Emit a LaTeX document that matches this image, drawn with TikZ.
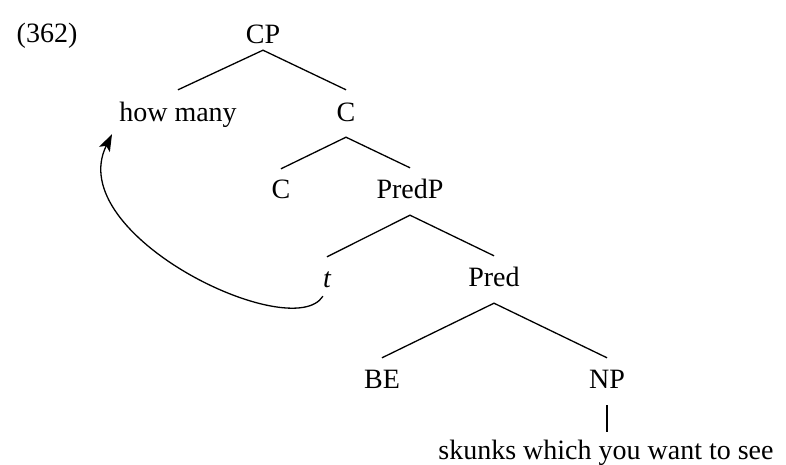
\documentclass[tikz,border=0pt]{standalone}
\usepackage{fontspec}
\setmainfont{Liberation Serif}
\usetikzlibrary{arrows.meta}
\begin{document}
\begin{tikzpicture}[x=1pt,y=-1pt,
  lbl/.style={anchor=base,inner sep=0pt,font=\fontsize{28}{30}\selectfont,text height=30pt,text depth=16pt},
  edge/.style={line width=1.3pt},
  mvarrow/.style={line width=1.3pt,-{Stealth[length=17pt,width=12pt,inset=4pt]}}]
\useasboundingbox (0,0) rectangle (786,465);
\node[lbl,text depth=6pt] (ex) at (47,43) {(362)};
\node[lbl,text depth=6pt] (CP) at (263,44) {CP};
\node[lbl,text height=32pt] (hm) at (178,122) {how many};
\node[lbl,text height=32pt,text depth=15pt] (C1) at (346,122) {C};
\node[lbl,text height=29pt] (C2) at (281,198) {C};
\node[lbl,text height=30pt,text depth=17pt] (PredP) at (410,198) {PredP};
\node[lbl,text height=30pt,text depth=9pt] (t) at (327,287) {\itshape t};
\node[lbl,text height=30pt,text depth=17pt] (Pred) at (494,286) {Pred};
\node[lbl,text height=30pt] (BE) at (382,388) {BE};
\node[lbl,text height=30pt,text depth=17pt] (NP) at (607,388) {NP};
\node[lbl,text height=27pt] (sk) at (606,459) {skunks which you want to see};
\coordinate (tip) at ([xshift=-66pt,yshift=4pt]hm.south);
\draw[edge] (hm.north) -- (CP.south) -- (C1.north);
\draw[edge] (C2.north) -- (C1.south) -- (PredP.north);
\draw[edge] (t.north) -- (PredP.south) -- (Pred.north);
\draw[edge] (BE.north) -- (Pred.south) -- (NP.north);
\draw[edge] (NP.south) -- (sk.north -| NP.south);
\draw[mvarrow] (t.south west) .. controls (292,345) and (62,235) .. (tip);
\end{tikzpicture}
\end{document}
